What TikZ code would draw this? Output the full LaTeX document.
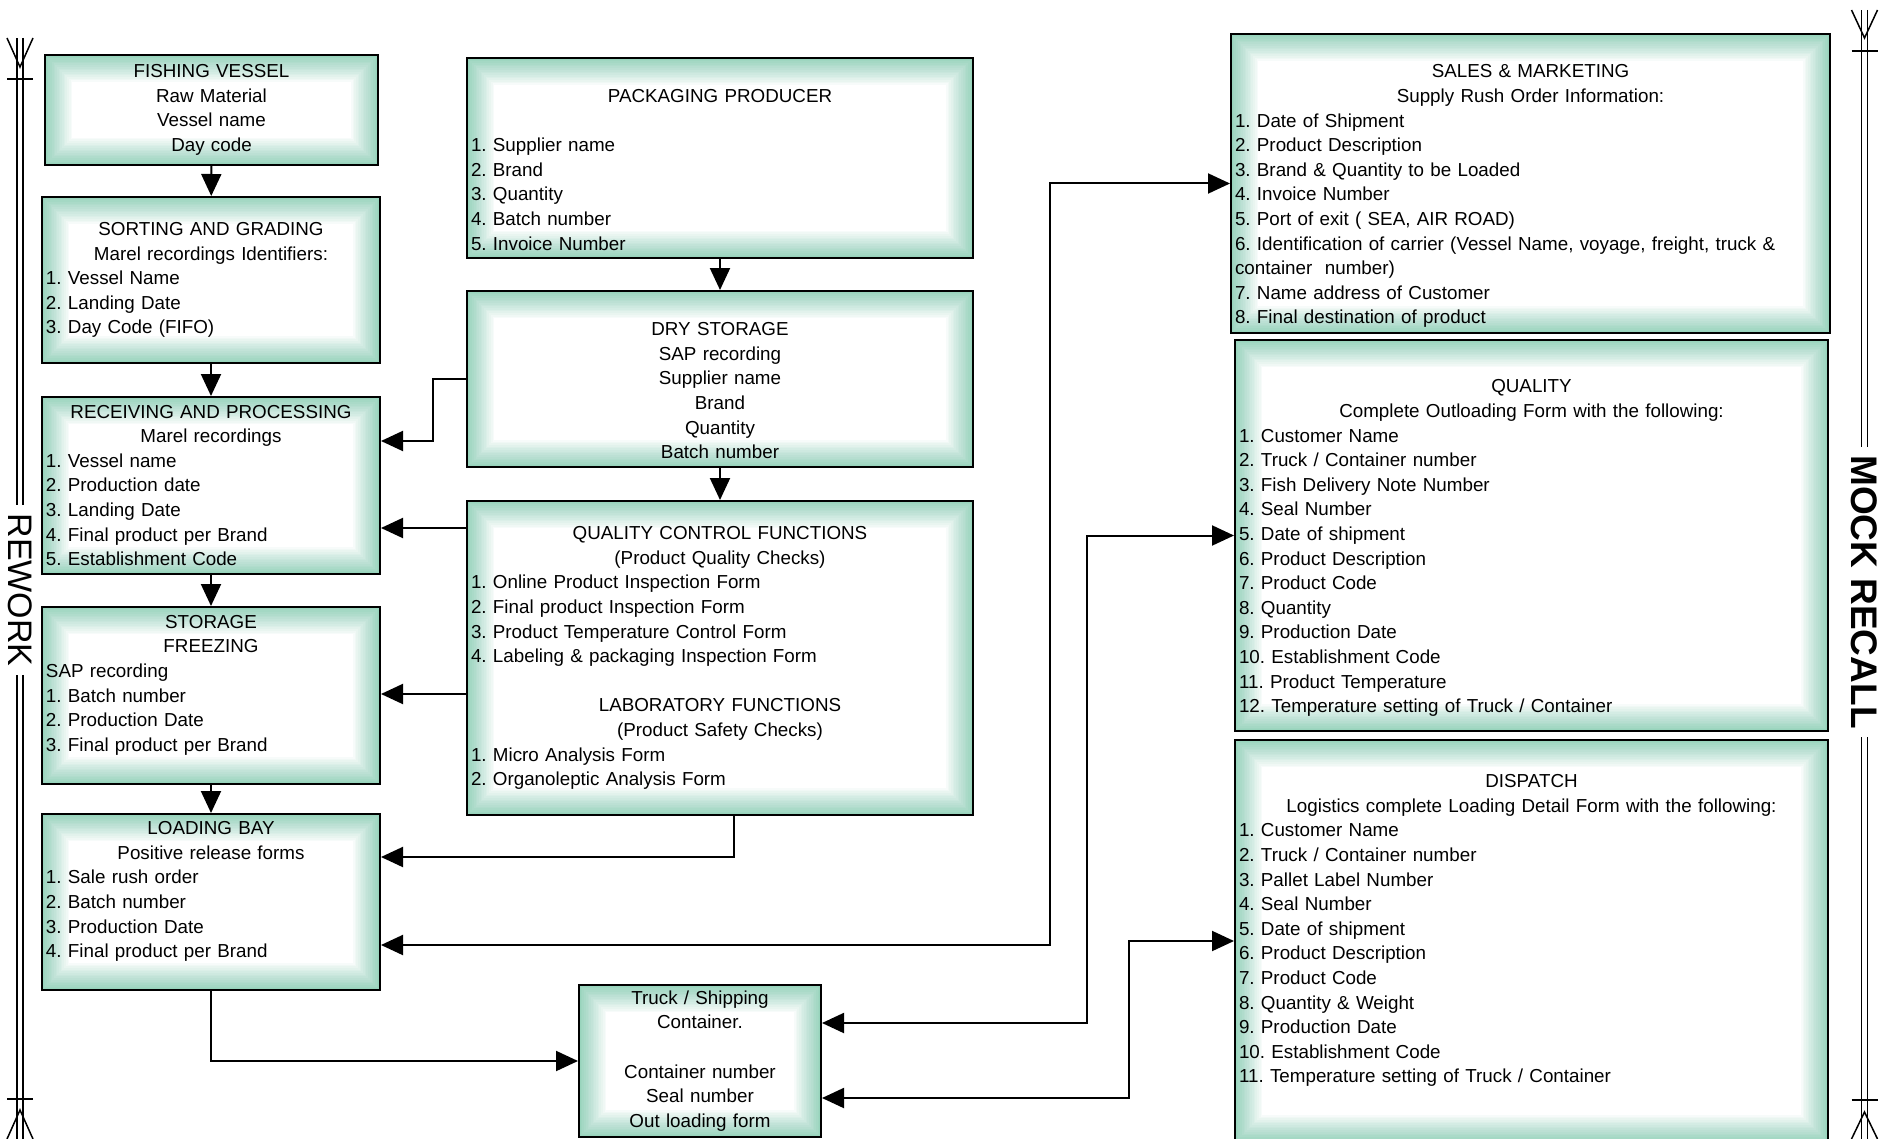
\documentclass[tikz,border=0pt]{standalone}
\usepackage{fontspec}
\setmainfont{Liberation Sans}
\usepackage{tikz}
\usepackage{xcolor}
\usetikzlibrary{positioning,arrows.meta}
\definecolor{boxgreen}{HTML}{98D4BC}
\newcommand{\ctrline}[1]{\noindent\hbox to\hsize{\hss#1\hss}}

\begin{document}
\begin{tikzpicture}[x=0.5pt,y=-0.5pt,every node/.style={font=\fontsize{9.4}{12.3}\selectfont\frenchspacing}]
    \tikzstyle{box}=[draw,line width=1pt,fill=boxgreen,inner xsep=2pt,inner ysep=0pt,align=left,
                     path picture={\foreach \k in {1,...,16}{
                       \pgfmathsetmacro{\op}{1/(17-\k)}
                       \fill[white,fill opacity=\op]
                         ([shift={(\k*0.85pt,\k*0.85pt)}]path picture bounding box.south west) rectangle
                         ([shift={(-\k*0.85pt,-\k*0.85pt)}]path picture bounding box.north east);}}];
    \tikzstyle{arr}=[line width=1pt,-{Triangle[length=11pt,width=10pt]}];
    \tikzstyle{arrs}=[line width=1pt,{Triangle[length=11pt,width=10pt]}-{Triangle[length=11pt,width=10pt]}];
    \tikzstyle{rail}=[double,line width=0.7pt,double distance=2.3pt];
    \tikzstyle{foot}=[line width=0.75pt];
    \tikzstyle{side}=[rotate=-90,inner sep=4pt,font=\fontsize{17}{17}\selectfont];

    \useasboundingbox (0,0) rectangle (1883,1139);

    % left column: raw material flow
    \node[box,align=center,text width=162.5pt,minimum height=55pt] (fish) at (211.5,110)
      {FISHING VESSEL\\ Raw Material\\ Vessel name\\ Day code};
    \node[box,text width=165pt,minimum height=83pt] (sort) at (211,280)
      {\ctrline{SORTING AND GRADING}\\ \ctrline{Marel recordings Identifiers:}\\
       1. Vessel Name\\ 2. Landing Date\\ 3. Day Code (FIFO)};
    \node[box,text width=165pt,minimum height=88.5pt] (recv) at (211,485.5)
      {\ctrline{RECEIVING AND PROCESSING}\\ \ctrline{Marel recordings}\\ 1. Vessel name\\
       2. Production date\\ 3. Landing Date\\ 4. Final product per Brand\\ 5. Establishment Code};
    \node[box,text width=165pt,minimum height=88.5pt] (stor) at (211,695.5)
      {\ctrline{STORAGE}\\ \ctrline{FREEZING}\\ SAP recording\\ 1. Batch number\\
       2. Production Date\\ 3. Final product per Brand\\ \mbox{}};
    \node[box,text width=165pt,minimum height=88pt] (load) at (211,902)
      {\ctrline{LOADING BAY}\\ \ctrline{Positive release forms}\\ 1. Sale rush order\\
       2. Batch number\\ 3. Production Date\\ 4. Final product per Brand\\ \mbox{}};

    % middle column: packaging and checks
    \node[box,text width=249pt,minimum height=100pt] (pack) at (720,158)
      {\mbox{}\\[6pt] \ctrline{PACKAGING PRODUCER}\\[12.3pt] 1. Supplier name\\ 2. Brand\\
       3. Quantity\\ 4. Batch number\\ 5. Invoice Number};
    \node[box,align=center,text width=249pt,minimum height=88pt] (dry) at (720,379)
      {\mbox{}\\[6pt] DRY STORAGE\\ SAP recording\\ Supplier name\\ Brand\\ Quantity\\ Batch number};
    \node[box,text width=249pt,minimum height=157pt] (qc) at (720,658)
      {\ctrline{QUALITY CONTROL FUNCTIONS}\\ \ctrline{(Product Quality Checks)}\\
       1. Online Product Inspection Form\\ 2. Final product Inspection Form\\
       3. Product Temperature Control Form\\ 4. Labeling \& packaging Inspection Form\\[12.3pt]
       \ctrline{LABORATORY FUNCTIONS}\\ \ctrline{(Product Safety Checks)}\\
       1. Micro Analysis Form\\ 2. Organoleptic Analysis Form};
    \node[box,align=center,text width=117pt,minimum height=76pt] (truck) at (700,1061)
      {Truck / Shipping\\ Container.\\[12.3pt] Container number\\ Seal number\\ Out loading form};

    % right column: outloading records
    \node[box,text width=295.5pt,minimum height=149.5pt] (sales) at (1530.5,183.5)
      {\mbox{}\\[7pt] \ctrline{SALES \& MARKETING}\\ \ctrline{Supply Rush Order Information:}\\
       1. Date of Shipment\\ 2. Product Description\\ 3. Brand \& Quantity to be Loaded\\
       4. Invoice Number\\ 5. Port of exit ( SEA, AIR ROAD)\\
       6. Identification of carrier (Vessel Name, voyage, freight, truck \&\\
       container\ \ number)\\ 7. Name address of Customer\\ 8. Final destination of product};
    \node[box,text width=292.5pt,minimum height=195.5pt] (qual) at (1531.5,535.5)
      {\mbox{}\\[7pt] \ctrline{QUALITY}\\ \ctrline{Complete Outloading Form with the following:}\\
       1. Customer Name\\ 2. Truck / Container number\\ 3. Fish Delivery Note Number\\
       4. Seal Number\\ 5. Date of shipment\\ 6. Product Description\\ 7. Product Code\\
       8. Quantity\\ 9. Production Date\\ 10. Establishment Code\\ 11. Product Temperature\\
       12. Temperature setting of Truck / Container};
    \node[box,text width=292.5pt,minimum height=201pt] (disp) at (1531.5,941)
      {\ctrline{DISPATCH}\\ \ctrline{Logistics complete Loading Detail Form with the following:}\\
       1. Customer Name\\ 2. Truck / Container number\\ 3. Pallet Label Number\\
       4. Seal Number\\ 5. Date of shipment\\ 6. Product Description\\ 7. Product Code\\
       8. Quantity \& Weight\\ 9. Production Date\\ 10. Establishment Code\\
       11. Temperature setting of Truck / Container\\ \mbox{}};

    % flow arrows
    \draw[arr] (fish) -- (sort);
    \draw[arr] (sort) -- (recv);
    \draw[arr] (recv) -- (stor);
    \draw[arr] (stor) -- (load);
    \draw[arr] (pack) -- (dry);
    \draw[arr] (dry) -- (qc);
    \draw[arr] (dry.west) -- ++(-33,0) |- (recv.east |- 0,441);
    \draw[arr] (qc.west |- 0,528) -- (recv.east |- 0,528);
    \draw[arr] (qc.west |- 0,694) -- (stor.east |- 0,694);
    \draw[arr] (qc.south -| 734,0) |- (load.east |- 0,857);
    \draw[arr] (load.south) |- (truck.west);
    \draw[arrs] (load.east |- 0,945) -| (sales.west -| 1050,0) -- (sales.west);
    \draw[arrs] (truck.east |- 0,1023) -| (qual.west -| 1087,0) -- (qual.west);
    \draw[arrs] (truck.east |- 0,1098) -| (disp.west -| 1129,0) -- (disp.west);

    % side rails
    \node[side] (rework) at (20,590) {REWORK};
    \node[side,font=\fontsize{18.5}{18.5}\selectfont\bfseries] (recall) at (1864.5,592) {MOCK RECALL};
    \coordinate (rwtop) at (20,38);
    \coordinate (rwbot) at (20,1139);
    \coordinate (mrtop) at (1864.5,10);
    \coordinate (mrbot) at (1864.5,1139);
    \draw[rail] (rwtop) -- (rework.west);
    \draw[rail] (rework.east) -- (rwbot);
    \draw[rail] (mrtop) -- (recall.west);
    \draw[rail] (recall.east) -- (mrbot);
    \draw[foot] (rwtop) ++(-13,0) -- ++(13,29) -- ++(13,-29);
    \draw[foot] (rwtop) ++(-13,41) -- ++(26,0);
    \draw[foot] (rwbot) ++(-13,0) -- ++(13,-29) -- ++(13,29);
    \draw[foot] (rwbot) ++(-13,-40) -- ++(26,0);
    \draw[foot] (mrtop) ++(-13,0) -- ++(13,28) -- ++(13,-28);
    \draw[foot] (mrtop) ++(-13,41) -- ++(26,0);
    \draw[foot] (mrbot) ++(-13,0) -- ++(13,-27) -- ++(13,27);
    \draw[foot] (mrbot) ++(-13,-39) -- ++(26,0);
\end{tikzpicture}
\end{document}
